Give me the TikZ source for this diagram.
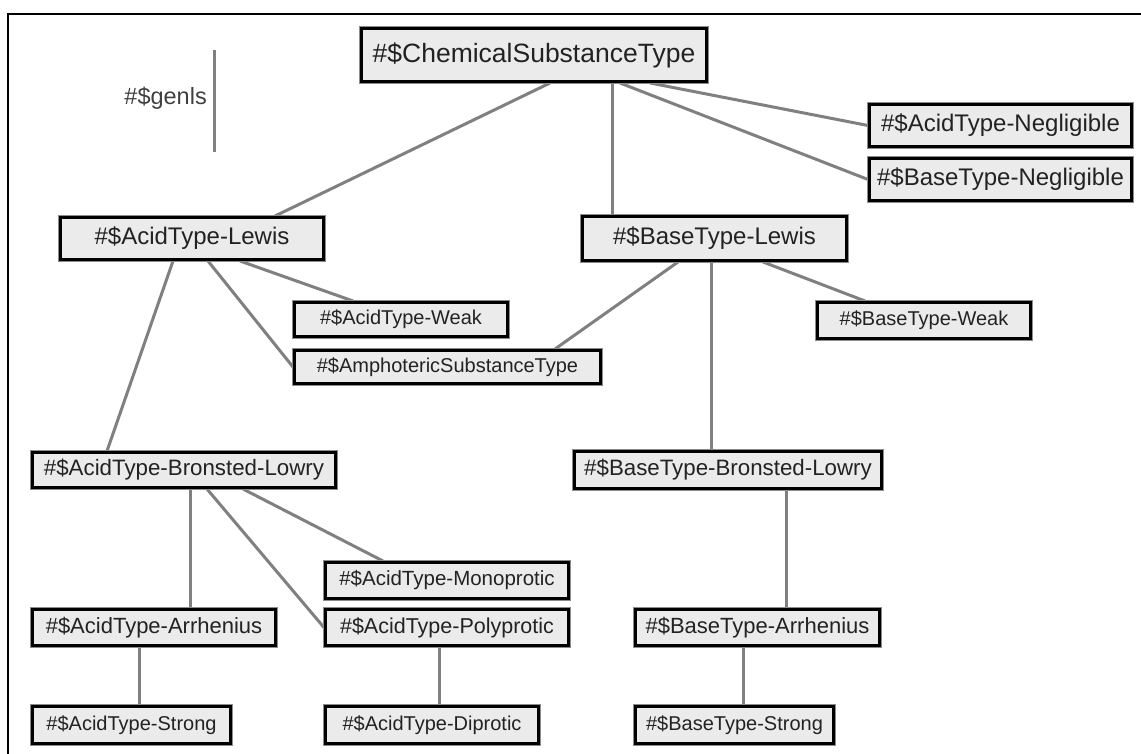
\documentclass[tikz,border=0pt]{standalone}
\usepackage{fontspec}
\setmainfont{Liberation Sans}
\pgfdeclarelayer{bg}
\pgfsetlayers{bg,main}
\definecolor{boxfill}{HTML}{EBEBEB}
\definecolor{linkgray}{HTML}{808080}
\definecolor{txt}{HTML}{222222}
\tikzset{
  cbox/.style={draw=black, line width=3pt, fill=boxfill, text=txt, inner sep=0pt,
    preaction={draw=black!45, line width=5pt}},
  link/.style={draw=linkgray, line width=3pt},
}
\newcommand{\fs}[1]{\fontsize{#1}{#1}\selectfont}
\begin{document}
\begin{tikzpicture}[x=1pt,y=-1pt]
\useasboundingbox (0,0) rectangle (1141,754);
% frame
\coordinate (f1) at (8,760);
\coordinate (f2) at (8,14);
\coordinate (f3) at (1150,14);
\draw[black, line width=1.3pt] (f1) -- (f2) -- (f3);
% legend
\node[text=black!75, anchor=east, inner sep=0pt] (genls) at (207,98) {\fs{23.5}\#\$genls};
\coordinate (g1) at (214,50);
\coordinate (g2) at (214,152);
\draw[link] (g1) -- (g2);
% nodes
\node[cbox, minimum width=345, minimum height=53] (chem) at (534,55) {\fs{26.5}\#\$ChemicalSubstanceType};
\node[cbox, minimum width=262, minimum height=42] (acidneg) at (1000.5,125.5) {\fs{24}\#\$AcidType-Negligible};
\node[cbox, minimum width=262, minimum height=42] (baseneg) at (1000.5,179.5) {\fs{24}\#\$BaseType-Negligible};
\node[cbox, minimum width=263, minimum height=42] (acidlewis) at (192,238.5) {\fs{24}\#\$AcidType-Lewis};
\node[cbox, minimum width=264, minimum height=44] (baselewis) at (714.5,238.5) {\fs{24}\#\$BaseType-Lewis};
\node[cbox, minimum width=213, minimum height=34] (acidweak) at (401,319.5) {\fs{20}\#\$AcidType-Weak};
\node[cbox, minimum width=306, minimum height=33] (amph) at (447.5,367) {\fs{20}\#\$AmphotericSubstanceType};
\node[cbox, minimum width=213, minimum height=36] (baseweak) at (924,320.5) {\fs{20}\#\$BaseType-Weak};
\node[cbox, minimum width=303, minimum height=35] (acidbl) at (184,470) {\fs{22.3}\#\$AcidType-Bronsted-Lowry};
\node[cbox, minimum width=307, minimum height=37] (basebl) at (728,470) {\fs{22.3}\#\$BaseType-Bronsted-Lowry};
\node[cbox, minimum width=243, minimum height=36] (mono) at (447,580.5) {\fs{20.5}\#\$AcidType-Monoprotic};
\node[cbox, minimum width=243, minimum height=36] (acidarr) at (154,627.5) {\fs{22}\#\$AcidType-Arrhenius};
\node[cbox, minimum width=243, minimum height=36] (poly) at (447,627.5) {\fs{21.5}\#\$AcidType-Polyprotic};
\node[cbox, minimum width=244, minimum height=36] (basearr) at (757.5,627.5) {\fs{22}\#\$BaseType-Arrhenius};
\node[cbox, minimum width=198, minimum height=37] (acidstrong) at (131.5,725) {\fs{20}\#\$AcidType-Strong};
\node[cbox, minimum width=213, minimum height=37] (diprotic) at (432,725) {\fs{20}\#\$AcidType-Diprotic};
\node[cbox, minimum width=198, minimum height=37] (basestrong) at (734.5,725) {\fs{20}\#\$BaseType-Strong};
% connectors
\begin{pgfonlayer}{bg}
\fill[white] (0,0) rectangle (1141,754);
\draw[link] ([xshift=16pt]chem.south) -- ([xshift=83pt]acidlewis.north);
\draw[link] ([xshift=78pt]chem.south) -- ([xshift=-102.5pt]baselewis.north);
\draw[link] ([xshift=116pt]chem.south) -- (acidneg.west);
\draw[link] ([xshift=86pt]chem.south) -- (baseneg.west);
\draw[link] ([xshift=-19pt]acidlewis.south) -- ([xshift=-77pt]acidbl.north);
\draw[link] ([xshift=16pt]acidlewis.south) -- (amph.west);
\draw[link] ([xshift=48pt]acidlewis.south) -- ([xshift=-48pt]acidweak.north);
\draw[link] ([xshift=-36.5pt]baselewis.south) -- ([xshift=107.5pt]amph.north);
\draw[link] ([xshift=48.5pt]baselewis.south) -- ([xshift=-59pt]baseweak.north);
\draw[link] ([xshift=-3.5pt]baselewis.south) -- ([xshift=-17pt]basebl.north);
\draw[link] ([xshift=6pt]acidbl.south) -- ([xshift=36pt]acidarr.north);
\draw[link] ([xshift=23pt]acidbl.south) -- (poly.west);
\draw[link] ([xshift=59pt]acidbl.south) -- ([xshift=-64pt]mono.north);
\draw[link] ([xshift=-15pt]acidarr.south) -- ([xshift=7.5pt]acidstrong.north);
\draw[link] ([xshift=-8pt]poly.south) -- ([xshift=7pt]diprotic.north);
\draw[link] ([xshift=58pt]basebl.south) -- ([xshift=28.5pt]basearr.north);
\draw[link] ([xshift=-14.5pt]basearr.south) -- ([xshift=8.5pt]basestrong.north);
\end{pgfonlayer}
\end{tikzpicture}
\end{document}
